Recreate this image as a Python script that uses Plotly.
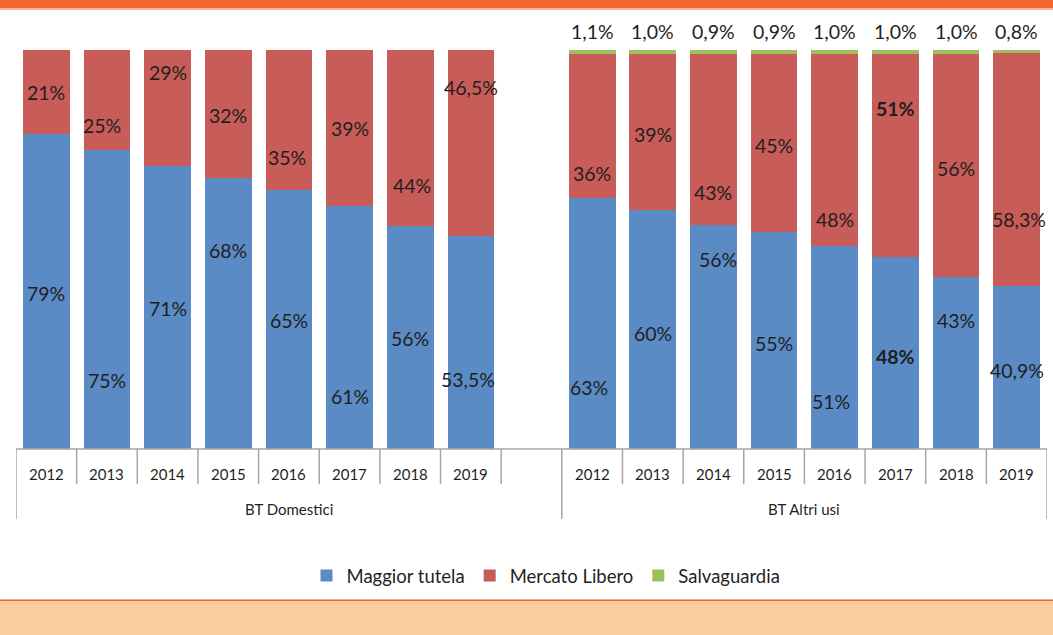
import plotly.graph_objects as go

# ---------------- data ----------------
years = ["2012", "2013", "2014", "2015", "2016", "2017", "2018", "2019"]
groups = ["BT Domestici", "BT Altri usi"]
series_names = ["Maggior tutela", "Mercato Libero", "Salvaguardia"]

dom_tutela = [79, 75, 71, 68, 65, 61, 56, 53.5]
dom_libero = [21, 25, 29, 32, 35, 39, 44, 46.5]
alt_tutela = [63, 60, 56, 55, 51, 48, 43, 40.9]
alt_libero = [36, 39, 43, 45, 48, 51, 56, 58.3]
alt_salv = [1.1, 1.0, 0.9, 0.9, 1.0, 1.0, 1.0, 0.8]

# ---------------- style ----------------
C_BLUE = "#5B8BC5"
C_RED = "#C75C59"
C_GREEN = "#9DC05C"
C_ORANGE = "#F26531"
C_PEACH = "#FCCE9E"
C_AXIS = "#A6A6A6"
C_TEXT = "#1F1F1F"
FONT = "Lato, 'Open Sans', sans-serif"

# label pixel offsets (manual placement in original)
dom_tutela_dy = [-2, -81, -1, 63, -1, -69, -1, -37]
dom_libero_dy = [-1, -26, 35, -2, -38, -1, -48, 55]
alt_tutela_dy = [-64, -4, 78, -3, -54, -3, 43, -3]
alt_libero_dy = [-47, -3, -53, -3, -70, 47, -3, -50]
dom_tutela_dx = [0, 0, 0, 0, 0, 0, 0, -3]
dom_libero_dx = [0, -5, 0, 0, -2, 0, 2, 0]
alt_tutela_dx = [-3, 0, 5, 0, -4, 0, 0, 0]
alt_libero_dx = [0, 0, 0, 0, 0, 0, 0, 2]
bold_alt = [False, False, False, False, False, True, False, False]

n = len(years)
x_dom = list(range(n))
x_alt = [n + 1 + i for i in range(n)]
n_slots = 2 * n + 1

# plot-area geometry in pixels (for decorations)
W, H = 1053, 635
ML, MR, MT, MB = 16, 6, 50, 186
PW, PH = W - ML - MR, H - MT - MB


def px_x(x):
    return (x - ML) / PW


def px_y(y):
    return (H - MB - y) / PH


def fmt(v, dec=None):
    if dec is None:
        dec = 0 if float(v).is_integer() else 1
    return (f"{v:.{dec}f}").replace(".", ",") + "%"


fig = go.Figure()
fig.add_trace(go.Bar(name=series_names[0], x=x_dom + x_alt, y=dom_tutela + alt_tutela,
                     marker=dict(color=C_BLUE, line=dict(width=0)), width=0.77,
                     hoverinfo="skip"))
fig.add_trace(go.Bar(name=series_names[1], x=x_dom + x_alt, y=dom_libero + alt_libero,
                     marker=dict(color=C_RED, line=dict(width=0)), width=0.77,
                     hoverinfo="skip"))
fig.add_trace(go.Bar(name=series_names[2], x=x_alt, y=alt_salv,
                     marker=dict(color=C_GREEN, line=dict(width=0)), width=0.77,
                     hoverinfo="skip"))

annotations = []
label_font = dict(family=FONT, size=19.5, color=C_TEXT)


def add_labels(xs, tut, lib, salv, tdy, ldy, tdx, ldx, bold):
    for i, x in enumerate(xs):
        s = salv[i] if salv else 0
        tot = tut[i] + lib[i] + s
        tc = tut[i] / 2 / tot * 100
        lc = (tut[i] + lib[i] / 2) / tot * 100
        b = bold[i] if bold else False
        for val, yc, dy, dx in ((tut[i], tc, tdy[i], tdx[i]), (lib[i], lc, ldy[i], ldx[i])):
            txt = fmt(val)
            if b:
                txt = f"<b>{txt}</b>"
            annotations.append(dict(x=x, y=yc, xref="x", yref="y", text=txt, showarrow=False,
                                    font=label_font, yshift=dy, xshift=dx))
        if salv:
            annotations.append(dict(x=x, y=100, xref="x", yref="y", text=fmt(s, 1),
                                    showarrow=False, font=label_font, yanchor="bottom",
                                    yshift=5))


add_labels(x_dom, dom_tutela, dom_libero, None, dom_tutela_dy, dom_libero_dy,
           dom_tutela_dx, dom_libero_dx, None)
add_labels(x_alt, alt_tutela, alt_libero, alt_salv, alt_tutela_dy, alt_libero_dy,
           alt_tutela_dx, alt_libero_dx, bold_alt)

# category axis labels
cat_font = dict(family=FONT, size=15, color=C_TEXT)
for xs in (x_dom, x_alt):
    for x, yr in zip(xs, years):
        annotations.append(dict(x=x, y=0, xref="x", yref="paper", text=yr, showarrow=False,
                                font=cat_font, yanchor="middle", yshift=-25))
for xs, g in ((x_dom + [n], groups[0]), (x_alt, groups[1])):
    annotations.append(dict(x=(xs[0] + xs[-1]) / 2, y=0, xref="x", yref="paper", text=g,
                            showarrow=False, font=cat_font, yanchor="middle", yshift=-60))

shapes = []
# axis line
shapes.append(dict(type="line", xref="x", yref="paper", x0=-0.5, x1=n_slots - 0.5, y0=0, y1=0,
                   line=dict(color=C_AXIS, width=1.5)))
# dividers
long_div = {-0.5, n + 0.5, n_slots - 0.5}
for k in range(n_slots + 1):
    xb = k - 0.5
    depth = 70 if xb in long_div else 35
    shapes.append(dict(type="line", xref="x", yref="paper", x0=xb, x1=xb, y0=0,
                       y1=-depth / PH, line=dict(color=C_AXIS, width=1.5)))

# header band and footer
shapes.append(dict(type="rect", xref="paper", yref="paper", x0=px_x(0), x1=px_x(W),
                   y0=px_y(8.5), y1=px_y(0), fillcolor=C_ORANGE, line=dict(width=0), layer="below"))
shapes.append(dict(type="rect", xref="paper", yref="paper", x0=px_x(0), x1=px_x(W),
                   y0=px_y(10), y1=px_y(8.5), fillcolor="#F9B593", line=dict(width=0), layer="below"))
shapes.append(dict(type="rect", xref="paper", yref="paper", x0=px_x(0), x1=px_x(W),
                   y0=px_y(H), y1=px_y(600.5), fillcolor=C_PEACH, line=dict(width=0), layer="below"))
shapes.append(dict(type="line", xref="paper", yref="paper", x0=px_x(0), x1=px_x(W),
                   y0=px_y(600.2), y1=px_y(600.2), line=dict(color=C_ORANGE, width=1.5)))

fig.update_layout(
    width=W, height=H,
    margin=dict(l=ML, r=MR, t=MT, b=MB, pad=0),
    barmode="stack", barnorm="percent",
    paper_bgcolor="white", plot_bgcolor="white",
    xaxis=dict(range=[-0.5, n_slots - 0.5], showticklabels=False, showgrid=False,
               zeroline=False, showline=False, ticks="", fixedrange=True),
    yaxis=dict(range=[0, 100], visible=False, fixedrange=True),
    showlegend=True,
    legend=dict(orientation="h", x=px_x(546), xanchor="center", y=px_y(576), yanchor="middle",
                font=dict(family=FONT, size=18.5, color=C_TEXT), itemwidth=30,
                traceorder="normal", bgcolor="rgba(0,0,0,0)"),
    annotations=annotations,
    shapes=shapes,
    font=dict(family=FONT, color=C_TEXT),
)

fig.write_html("out.html")
